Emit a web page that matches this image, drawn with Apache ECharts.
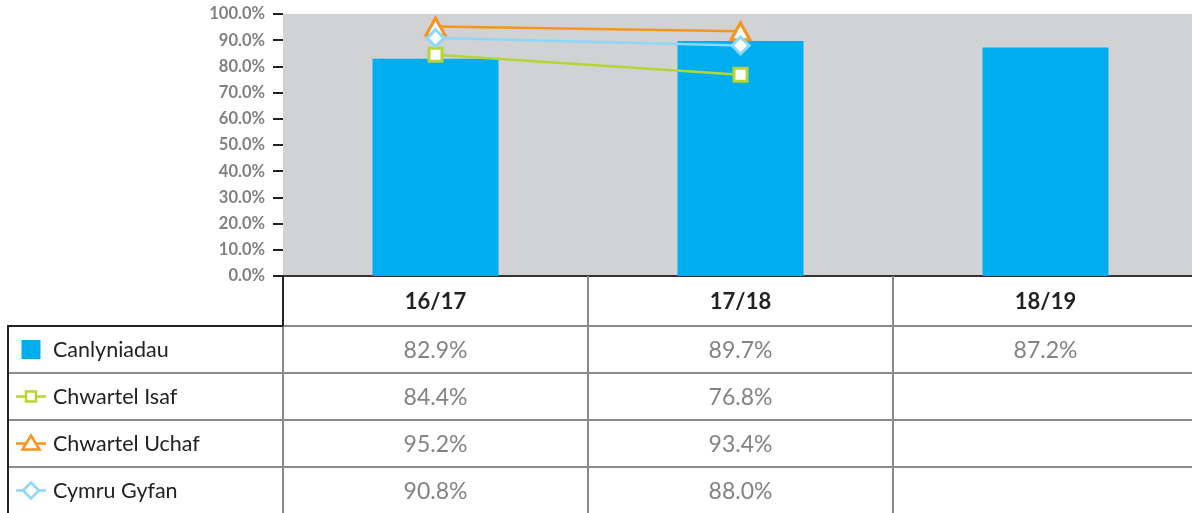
<!DOCTYPE html>
<html>
<head>
<meta charset="utf-8">
<script src="https://cdn.jsdelivr.net/npm/echarts@6/dist/echarts.min.js"></script>
<style>
  html, body { margin: 0; padding: 0; background: #fff; }
  #chart { width: 1192px; height: 513px; }
</style>
</head>
<body>
<div id="chart"></div>
<script>
// data
var years = ["16/17", "17/18", "18/19"];
var canlyniadau = [82.9, 89.7, 87.2];
var chwartelIsaf = [84.4, 76.8, null];
var chwartelUchaf = [95.2, 93.4, null];
var cymruGyfan = [90.8, 88.0, null];

var seriesNames = ["Canlyniadau", "Chwartel Isaf", "Chwartel Uchaf", "Cymru Gyfan"];
var seriesData = [canlyniadau, chwartelIsaf, chwartelUchaf, cymruGyfan];
var seriesColors = ["#00aeef", "#b7d433", "#f7941d", "#8dd7f7"];
var seriesSymbols = ["rect", "rect", "triangle", "diamond"];

var FONT = "Lato, 'Open Sans', sans-serif";
var GRID_LINE = "#8a8a8a";
var ROW_H = 47;
var HEAD_H = 50;
var TABLE_LEFT = 8;

var chart = echarts.init(document.getElementById("chart"));

function lineSeries(i, size) {
  return {
    name: seriesNames[i],
    type: "line",
    data: seriesData[i],
    symbol: seriesSymbols[i],
    symbolSize: size,
    showAllSymbol: true,
    connectNulls: false,
    lineStyle: { color: seriesColors[i], width: 2.5 },
    itemStyle: { color: "#fff", borderColor: seriesColors[i], borderWidth: 3 },
    emphasis: { disabled: true }
  };
}

var option = {
  animation: false,
  grid: {
    left: 283, width: 915, top: 14, bottom: 237,
    outerBoundsMode: "none",
    containLabel: false,
    show: true, backgroundColor: "#d1d2d4", borderWidth: 0
  },
  xAxis: {
    type: "category",
    data: years,
    boundaryGap: true,
    axisLabel: { show: false },
    axisTick: { show: false },
    axisLine: { show: true, lineStyle: { color: "#333", width: 2 } }
  },
  yAxis: {
    type: "value",
    min: 0, max: 100, interval: 10,
    axisLine: { show: false },
    axisTick: { show: true, length: 10, lineStyle: { color: "#222", width: 2 } },
    splitLine: { show: false },
    axisLabel: {
      margin: 18,
      color: "#808080",
      fontWeight: "bold",
      fontSize: 16.5,
      fontFamily: FONT,
      formatter: function (v) { return v.toFixed(1) + "%"; }
    }
  },
  series: [
    {
      name: seriesNames[0],
      type: "bar",
      data: canlyniadau,
      barWidth: 126,
      itemStyle: { color: seriesColors[0] },
      emphasis: { disabled: true }
    },
    lineSeries(1, 13),
    lineSeries(2, [19, 17]),
    lineSeries(3, [17, 17])
  ]
};

chart.setOption(option);

// data table drawn under the plot, aligned on the category axis
function buildTable() {
  var centers = years.map(function (y) { return chart.convertToPixel({ xAxisIndex: 0 }, y); });
  var colW = centers[1] - centers[0];
  var left = centers[0] - colW / 2;
  var right = centers[centers.length - 1] + colW / 2;
  var y0 = chart.convertToPixel({ yAxisIndex: 0 }, 0);
  var headBottom = y0 + HEAD_H;
  var bottom = headBottom + ROW_H * seriesNames.length;
  var els = [];

  function ln(x1, y1, x2, y2, color) {
    els.push({
      type: "line", z: 10,
      shape: { x1: x1, y1: y1, x2: x2, y2: y2 },
      style: { stroke: color, lineWidth: 2 }
    });
  }

  // grey grid
  for (var r = 1; r < seriesNames.length; r++) {
    var yy = headBottom + r * ROW_H;
    ln(TABLE_LEFT, yy, right, yy, GRID_LINE);
  }
  ln(left, headBottom, right, headBottom, GRID_LINE);
  for (var c = 1; c < years.length; c++) {
    var xx = left + c * colW;
    ln(xx, y0, xx, bottom, GRID_LINE);
  }
  ln(left, headBottom, left, bottom, GRID_LINE);
  ln(right, y0, right, bottom, GRID_LINE);
  ln(TABLE_LEFT, bottom, right, bottom, GRID_LINE);
  // black outline
  ln(left, y0, left, headBottom, "#222");
  ln(TABLE_LEFT - 1, headBottom, left, headBottom, "#222");
  ln(TABLE_LEFT, headBottom, TABLE_LEFT, bottom, "#222");

  // header
  years.forEach(function (y, i) {
    els.push({
      type: "text", z: 11,
      x: centers[i], y: y0 + HEAD_H / 2 + 1,
      style: {
        text: y, fill: "#222", font: "bold 22px " + FONT,
        align: "center", verticalAlign: "middle"
      }
    });
  });

  // rows
  seriesNames.forEach(function (name, r) {
    var cy = headBottom + r * ROW_H + ROW_H / 2;
    var col = seriesColors[r];
    var ix = 31;
    if (r === 0) {
      els.push({ type: "rect", z: 11, shape: { x: ix - 9.5, y: cy - 9.5, width: 19, height: 19 }, style: { fill: col } });
    } else {
      els.push({ type: "line", z: 11, shape: { x1: 16, y1: cy, x2: 46, y2: cy }, style: { stroke: col, lineWidth: 2.5 } });
      var mk;
      if (r === 1) {
        mk = { type: "rect", shape: { x: ix - 5, y: cy - 5, width: 10, height: 10 } };
      } else if (r === 2) {
        mk = { type: "polygon", shape: { points: [[ix, cy - 8], [ix + 8.5, cy + 6], [ix - 8.5, cy + 6]] } };
      } else {
        mk = { type: "polygon", shape: { points: [[ix, cy - 8], [ix + 8, cy], [ix, cy + 8], [ix - 8, cy]] } };
      }
      mk.z = 12;
      mk.style = { fill: "#fff", stroke: col, lineWidth: 2.5 };
      els.push(mk);
    }
    els.push({
      type: "text", z: 11,
      x: 53, y: cy + 1,
      style: { text: name, fill: "#222", font: "21.5px " + FONT, verticalAlign: "middle" }
    });
    seriesData[r].forEach(function (v, i) {
      if (v === null) return;
      els.push({
        type: "text", z: 11,
        x: centers[i], y: cy + 1,
        style: {
          text: v.toFixed(1) + "%", fill: "#838383", font: "23px " + FONT,
          align: "center", verticalAlign: "middle"
        }
      });
    });
  });

  chart.setOption({ graphic: { elements: els } });
}

buildTable();
</script>
</body>
</html>
